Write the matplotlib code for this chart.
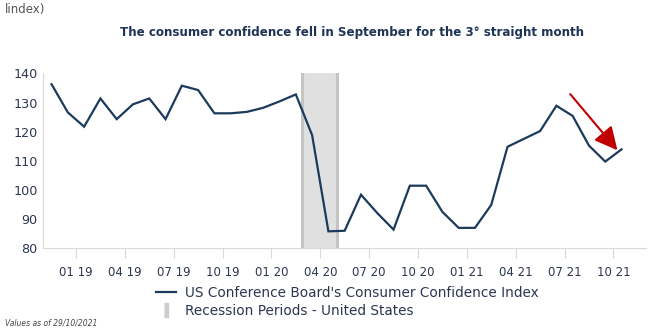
import matplotlib.pyplot as plt
from matplotlib.lines import Line2D

# US Conference Board Consumer Confidence Index, Nov 2018 - Oct 2021 (monthly)
months = ['11 18', '12 18', '01 19', '02 19', '03 19', '04 19', '05 19', '06 19',
          '07 19', '08 19', '09 19', '10 19', '11 19', '12 19', '01 20', '02 20',
          '03 20', '04 20', '05 20', '06 20', '07 20', '08 20', '09 20', '10 20',
          '11 20', '12 20', '01 21', '02 21', '03 21', '04 21', '05 21', '06 21',
          '07 21', '08 21', '09 21', '10 21']
confidence = [136.3, 126.6, 121.7, 131.4, 124.3, 129.4, 131.4, 124.3,
              135.8, 134.3, 126.3, 126.3, 126.8, 128.2, 130.4, 132.8,
              118.8, 85.7, 85.9, 98.3, 92.0, 86.3, 101.4, 101.4,
              92.4, 86.9, 86.9, 94.8, 114.8, 117.5, 120.2, 128.9,
              125.4, 115.2, 109.7, 113.9]
recession = (15.4, 17.5)  # Feb 2020 - Apr 2020, in month index
tick_labels = ['01 19', '04 19', '07 19', '10 19', '01 20', '04 20',
               '07 20', '10 20', '01 21', '04 21', '07 21', '10 21']

navy = '#1b3a5c'
txt = '#2c3650'

fig = plt.figure(figsize=(6.68, 3.31), dpi=100)
ax = fig.add_axes([0.065, 0.251, 0.902, 0.527])

x = list(range(len(confidence)))
ax.axvspan(*recession, facecolor='#e0e0e0', edgecolor='none', zorder=1)
for edge in recession:
    ax.axvline(edge, color='#c4c4c4', lw=2.2, zorder=1)
ax.plot(x, confidence, color=navy, lw=1.6, zorder=3, solid_joinstyle='miter')

ax.annotate('', xy=(34.75, 113.6), xytext=(31.85, 132.9),
            arrowprops=dict(arrowstyle='-|>,head_length=1.4,head_width=0.7',
                            color='#c00000', lw=1.5, shrinkA=0, shrinkB=0),
            zorder=4)

ax.set_ylim(80, 140)
ax.set_xlim(-0.5, 36.5)
ax.set_yticks(range(80, 141, 10))
ax.set_xticks([1.5 + 3 * i for i in range(len(tick_labels))])
ax.set_xticklabels(tick_labels)
ax.tick_params(axis='y', length=0, labelsize=9.2, labelcolor=txt, pad=4)
ax.tick_params(axis='x', length=7, color='#d8d8d8', labelsize=8.5,
               labelcolor=txt, pad=6)
for s in ['top', 'right']:
    ax.spines[s].set_visible(False)
for s in ['left', 'bottom']:
    ax.spines[s].set_color('#d8d8d8')
    ax.spines[s].set_linewidth(0.8)

fig.text(0.008, 0.97, 'lindex)', fontsize=8.5, color='#555555', va='center')
fig.text(0.527, 0.903, 'The consumer confidence fell in September for the 3° straight month',
         fontsize=8.6, fontweight='bold', color='#1f3558', ha='center', va='center')

bar = [(-0.28, -0.9), (0.28, -0.9), (0.28, 0.9), (-0.28, 0.9)]
handles = [Line2D([], [], color=navy, lw=1.6),
           Line2D([], [], color='#cccccc', marker=bar, markersize=10, linestyle='none')]
fig.legend(handles, ["US Conference Board's Consumer Confidence Index",
                     'Recession Periods - United States'],
           loc='center', bbox_to_anchor=(0.52, 0.088), frameon=False,
           fontsize=9.8, labelcolor=txt, handlelength=1.5, handletextpad=0.7,
           labelspacing=0.3)

fig.text(0.008, 0.025, 'Values as of 29/10/2021', fontsize=5.5, style='italic',
         color='#444444', va='center')

fig.savefig('out.png', dpi=100)
